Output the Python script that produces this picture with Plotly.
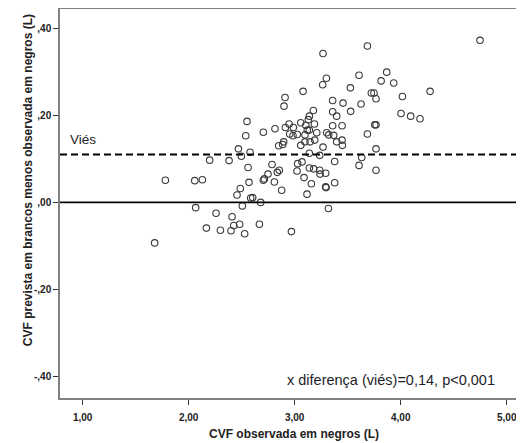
import plotly.graph_objects as go

# Observed FVC in Black subjects (L)
cvf_observada = [
    4.748, 3.686, 3.267, 3.868, 3.815, 3.934, 3.607, 3.299, 3.264, 3.525,
    3.079, 4.277, 3.723, 3.748, 4.016, 3.767, 2.909, 2.899, 3.358, 3.456,
    3.626, 3.528, 3.358, 3.176, 3.396, 4.003, 4.094, 4.182, 3.138, 3.129,
    2.550, 3.057, 3.186, 2.947, 3.104, 3.358, 3.447, 3.755, 3.767, 2.912,
    2.987, 2.814, 3.119, 2.704, 2.538, 2.953, 3.025, 2.984, 3.097, 3.208,
    3.302, 3.321, 3.368, 3.686, 2.896, 2.849, 2.887, 3.057, 3.097, 3.145,
    3.189, 3.396, 3.447, 3.450, 3.267, 2.469, 3.767, 2.579, 3.138, 2.497,
    3.236, 2.198, 2.381, 3.632, 3.377, 2.786, 3.028, 3.069, 2.560, 3.607,
    3.138, 3.179, 3.236, 3.292, 3.239, 3.767, 2.855, 2.836, 3.022, 2.748,
    2.714, 2.704, 3.088, 1.780, 2.057, 2.129, 2.569, 2.808, 3.157, 3.377,
    3.292, 3.296, 2.487, 2.877, 3.116, 2.456, 2.585, 2.604, 2.679, 2.506,
    2.066, 3.318, 2.258, 2.409, 2.425, 2.481, 2.667, 2.167, 2.299, 2.399,
    2.528, 2.969, 1.679, 3.138,
]
# Predicted FVC (white equation) minus observed FVC in Black subjects (L)
diferenca = [
    0.372, 0.359, 0.342, 0.299, 0.279, 0.274, 0.292, 0.285, 0.270, 0.263,
    0.255, 0.255, 0.251, 0.251, 0.243, 0.238, 0.241, 0.221, 0.234, 0.228,
    0.226, 0.209, 0.208, 0.211, 0.198, 0.204, 0.198, 0.192, 0.198, 0.190,
    0.186, 0.183, 0.180, 0.180, 0.177, 0.176, 0.176, 0.178, 0.178, 0.172,
    0.172, 0.169, 0.166, 0.161, 0.153, 0.157, 0.156, 0.153, 0.155, 0.160,
    0.160, 0.155, 0.154, 0.157, 0.139, 0.130, 0.133, 0.131, 0.139, 0.139,
    0.143, 0.139, 0.143, 0.131, 0.127, 0.123, 0.123, 0.115, 0.113, 0.106,
    0.108, 0.097, 0.096, 0.103, 0.094, 0.087, 0.089, 0.093, 0.080, 0.085,
    0.079, 0.077, 0.074, 0.067, 0.065, 0.074, 0.074, 0.069, 0.072, 0.065,
    0.054, 0.051, 0.057, 0.051, 0.050, 0.052, 0.046, 0.047, 0.043, 0.045,
    0.036, 0.034, 0.032, 0.028, 0.019, 0.017, 0.010, 0.011, 0.000, -0.008,
    -0.012, -0.014, -0.025, -0.033, -0.053, -0.050, -0.050, -0.059, -0.064, -0.065,
    -0.072, -0.067, -0.093, 0.166,
]

vies = 0.11
referencia = 0.0

x_tickvals = [1, 2, 3, 4, 5]
x_ticktext = ["1,00", "2,00", "3,00", "4,00", "5,00"]
y_tickvals = [0.4, 0.2, 0.0, -0.2, -0.4]
y_ticktext = [",40", ",20", ",00", "-,20", "-,40"]

x_title = "CVF observada em negros (L)"
y_title = "CVF prevista em brancos menos observada em negros (L)"
label_vies = "Viés"
label_stats = "x diferença (viés)=0,14, p<0,001"

fig = go.Figure()
fig.add_trace(go.Scatter(
    x=cvf_observada, y=diferenca, mode="markers",
    marker=dict(symbol="circle-open", size=6.5, color="#3a3a3a",
                line=dict(width=1.1, color="#3a3a3a")),
    showlegend=False, hoverinfo="x+y",
))

fig.add_shape(type="line", xref="paper", yref="y", x0=0, x1=1, y0=vies, y1=vies,
              line=dict(color="black", width=2, dash="7px,4px"))
fig.add_shape(type="line", xref="paper", yref="y", x0=0, x1=1, y0=referencia, y1=referencia,
              line=dict(color="black", width=1.6))

fig.add_annotation(x=0.861, y=0.1435, xref="x", yref="y", text=label_vies,
                   showarrow=False, xanchor="left", yanchor="middle",
                   font=dict(family="Liberation Sans, Arial", size=13.5, color="#1e1e2a"))
fig.add_annotation(x=4.909, y=-0.408, xref="x", yref="y", text=label_stats,
                   showarrow=False, xanchor="right", yanchor="middle",
                   font=dict(family="Liberation Sans, Arial", size=14.5, color="#1e1e2a"))

fig.add_annotation(x=0.504, y=-0.0925, xref="paper", yref="paper", text=x_title,
                   showarrow=False, xanchor="center", yanchor="middle",
                   font=dict(family="Liberation Sans, Arial", size=12, color="#222", weight="bold"))
fig.add_annotation(x=-0.069, y=0.56, xref="paper", yref="paper", text=y_title,
                   showarrow=False, xanchor="center", yanchor="middle", textangle=-90,
                   font=dict(family="Liberation Sans, Arial", size=12, color="#222", weight="bold"))

fig.update_layout(
    width=516, height=435,
    margin=dict(l=52, r=0, t=1, b=45),
    paper_bgcolor="white", plot_bgcolor="white",
    xaxis=dict(range=[0.786, 5.163], tickvals=x_tickvals, ticktext=x_ticktext,
               showgrid=False, zeroline=False, showline=True, linecolor="#808080",
               linewidth=1.5, mirror=True, ticks="outside", ticklen=5, tickcolor="#333",
               ticklabelstandoff=4,
               tickfont=dict(family="Liberation Sans, Arial", size=10, color="#222", weight="bold")),
    yaxis=dict(range=[-0.449, 0.444], tickvals=y_tickvals, ticktext=y_ticktext,
               showgrid=False, zeroline=False, showline=True, linecolor="#808080",
               linewidth=1.5, ticks="outside", ticklen=5, tickcolor="#333",
               tickfont=dict(family="Liberation Sans, Arial", size=10, color="#222", weight="bold")),
)

fig.write_html("out.html")
